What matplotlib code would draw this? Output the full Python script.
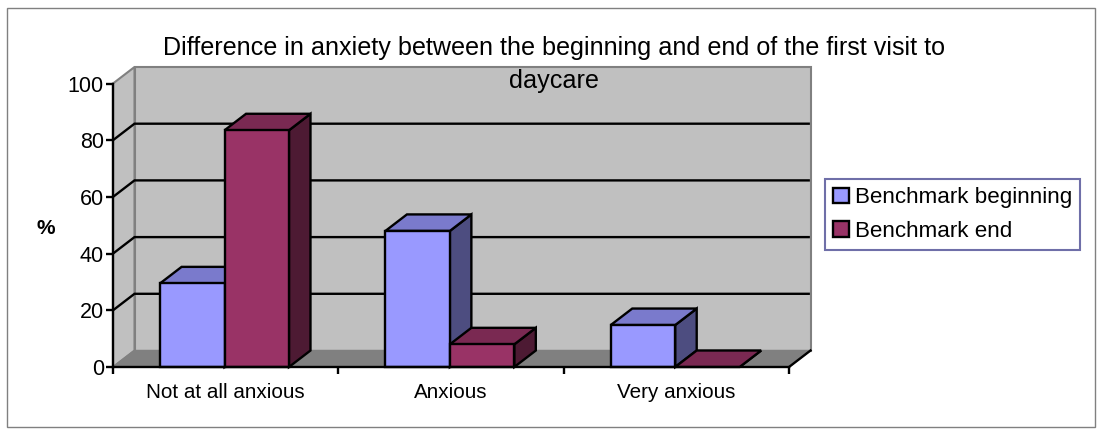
import matplotlib
matplotlib.use('Agg')
import matplotlib.pyplot as plt
from matplotlib.patches import Polygon, Patch, Rectangle

plt.rcParams['font.family'] = ['Liberation Sans', 'DejaVu Sans']

categories = ['Not at all anxious', 'Anxious', 'Very anxious']
series_names = ['Benchmark beginning', 'Benchmark end']
beginning = [29.5, 48, 14.8]
end = [83.5, 8, 0]
yticks = [0, 20, 40, 60, 80, 100]

W, H = 1102, 429
fig = plt.figure(figsize=(W / 100, H / 100), dpi=100)
fig.patches.append(Rectangle((7 / W, 1 - 427 / H), 1088 / W, 419 / H, transform=fig.transFigure,
                             facecolor='white', edgecolor='#808080', lw=1, zorder=-1))

# axes = front plane of the fake 3d box
ax = fig.add_axes([113 / W, 1 - 367 / H, 676 / W, 283.5 / H])
ax.set_xlim(0, 3)
ax.set_ylim(0, 100)
ax.patch.set_visible(False)

# depth offset in data units
dx = 21.5 / (676 / 3)
dy = 16.5 / 2.835
bw = 0.286
LW = 1.7

def poly(pts, fc, ec='none', lw=0, z=1):
    ax.add_patch(Polygon(pts, closed=True, facecolor=fc, edgecolor=ec, lw=lw, zorder=z,
                         clip_on=False, joinstyle='miter'))

def bar3d(x, h, front, top, side, z):
    poly([(x + bw, 0), (x + bw + dx, dy), (x + bw + dx, h + dy), (x + bw, h)], side, 'black', LW, z)
    poly([(x, h), (x + dx, h + dy), (x + bw + dx, h + dy), (x + bw, h)], top, 'black', LW, z)
    if h > 0:
        poly([(x, 0), (x + bw, 0), (x + bw, h), (x, h)], front, 'black', LW, z)

# walls and floor
poly([(dx, dy), (3 + dx, dy), (3 + dx, 100 + dy), (dx, 100 + dy)], '#C0C0C0', '#808080', 1.5, 1)
poly([(0, 0), (dx, dy), (dx, 100 + dy), (0, 100)], '#C0C0C0', '#808080', 1.5, 1)
poly([(0, 0), (3, 0), (3 + dx, dy), (dx, dy)], '#808080', '#808080', 1, 1.5)

# gridlines, run along the side wall then the back wall
for v in yticks[1:-1]:
    ax.plot([0, dx, 3 + dx - 0.008], [v, v + dy, v + dy], color='black', lw=LW, zorder=2,
            clip_on=False, solid_joinstyle='miter')
ax.plot([3, 3 + dx], [0, dy], color='black', lw=LW, zorder=2, clip_on=False)

for i in range(len(categories)):
    c = i + 0.495
    # the end bar sits in front of the beginning bar's side face
    bar3d(c - bw, beginning[i], '#9999FF', '#7A7ACC', '#4D4D80', 3)
    bar3d(c, end[i], '#993366', '#7A2952', '#4D1A33', 4)

for s in ['top', 'right']:
    ax.spines[s].set_visible(False)
for s in ['left', 'bottom']:
    ax.spines[s].set_linewidth(LW)
    ax.spines[s].set_zorder(6)

ax.set_yticks(yticks)
ax.set_xticks([0, 1, 2, 3])
ax.set_xticklabels([])
ax.set_xticks([0.5, 1.5, 2.5], minor=True)
ax.set_xticklabels(categories, minor=True, fontsize=14.9)
ax.tick_params(axis='x', which='minor', length=0, pad=11.5)
ax.tick_params(axis='x', which='major', length=5, width=LW)
ax.tick_params(axis='y', length=5, width=LW, labelsize=15.5, pad=1.5)

fig.text(46 / W, 1 - 228 / H, '%', ha='center', va='center', fontsize=15, fontweight='bold')
fig.text(554 / W, 1 - 48 / H, 'Difference in anxiety between the beginning and end of the first visit to',
         ha='center', va='center', fontsize=18.05)
fig.text(554 / W, 1 - 81 / H, 'daycare', ha='center', va='center', fontsize=18.05)

handles = [Patch(facecolor='#9999FF', edgecolor='black', lw=LW),
           Patch(facecolor='#993366', edgecolor='black', lw=LW)]
leg = fig.legend(handles, series_names, loc='upper left', bbox_to_anchor=(825 / W, 1 - 179 / H),
                 borderaxespad=0, fontsize=16.1, fancybox=False, framealpha=1,
                 handlelength=0.7, handleheight=0.7, handletextpad=0.25, labelspacing=0.55,
                 borderpad=0.38)
leg.get_frame().set_edgecolor('#6F6FA8')
leg.get_frame().set_linewidth(1.5)

fig.savefig('out.png', dpi=100)
